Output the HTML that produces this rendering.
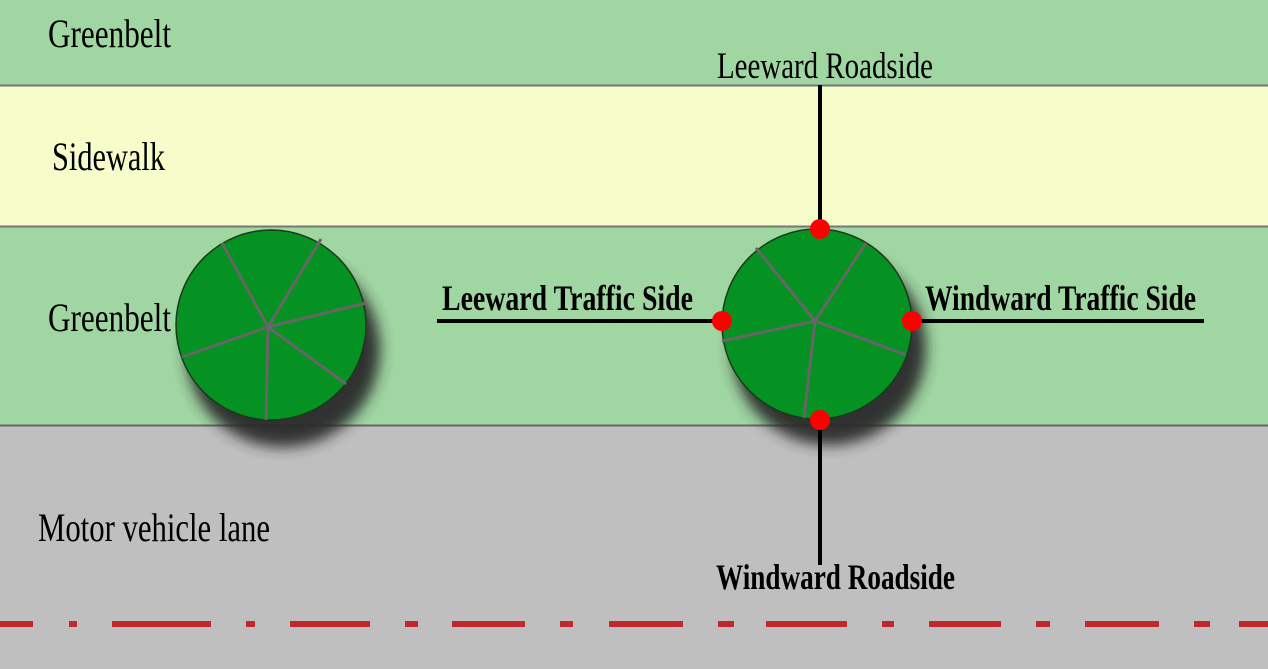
<!DOCTYPE html>
<html><head><meta charset="utf-8"><style>
html,body{margin:0;padding:0;width:1268px;height:669px;overflow:hidden;background:#bfbfbf}
svg{display:block}
text{font-family:"Liberation Serif",serif;fill:#000}
</style></head><body>
<svg width="1268" height="669" viewBox="0 0 1268 669" xmlns="http://www.w3.org/2000/svg">
<defs>
<filter id="sh" x="-50%" y="-50%" width="200%" height="200%"><feGaussianBlur stdDeviation="7"/></filter>
</defs>
<rect x="0" y="0" width="1268" height="86" fill="#9fd6a2"/>
<rect x="0" y="86" width="1268" height="140" fill="#f6fdca"/>
<rect x="0" y="226" width="1268" height="200" fill="#9fd6a2"/>
<rect x="0" y="426" width="1268" height="243" fill="#bfbfbf"/>
<line x1="0" y1="85.5" x2="1268" y2="85.5" stroke="#777" stroke-width="2"/>
<line x1="0" y1="226.5" x2="1268" y2="226.5" stroke="#777" stroke-width="2"/>
<line x1="0" y1="425.5" x2="1268" y2="425.5" stroke="#666" stroke-width="2"/>

<g fill="#c1272d">
<rect x="0" y="621" width="33" height="6"/><rect x="69" y="621" width="8" height="6"/>
<rect x="112" y="621" width="99" height="6"/><rect x="246" y="621" width="9" height="6"/>
<rect x="290" y="621" width="80" height="6"/><rect x="405" y="621" width="13" height="6"/>
<rect x="452" y="621" width="73" height="6"/><rect x="560" y="621" width="13" height="6"/>
<rect x="609" y="621" width="74" height="6"/><rect x="718" y="621" width="16" height="6"/>
<rect x="766" y="621" width="81" height="6"/><rect x="882" y="621" width="12" height="6"/>
<rect x="929" y="621" width="72" height="6"/><rect x="1036" y="621" width="14" height="6"/>
<rect x="1085" y="621" width="74" height="6"/><rect x="1194" y="621" width="16" height="6"/>
<rect x="1239" y="621" width="29" height="6"/>
</g>

<circle cx="283" cy="350" r="97" fill="#2a2a2a" opacity="0.95" filter="url(#sh)"/>
<circle cx="829" cy="348" r="97" fill="#2a2a2a" opacity="0.95" filter="url(#sh)"/>

<circle cx="271" cy="325" r="95" fill="#069222" stroke="#1a3a1a" stroke-width="1.5"/>
<g stroke="#666" stroke-width="3">
<line x1="268" y1="327" x2="222" y2="243"/><line x1="268" y1="327" x2="321" y2="239"/>
<line x1="268" y1="327" x2="366" y2="303"/><line x1="268" y1="327" x2="346" y2="384"/>
<line x1="268" y1="327" x2="266" y2="420"/><line x1="268" y1="327" x2="182" y2="357"/>
</g>
<circle cx="817" cy="324" r="95" fill="#069222" stroke="#1a3a1a" stroke-width="1.5"/>
<g stroke="#666" stroke-width="3">
<line x1="815" y1="321" x2="756" y2="248"/><line x1="815" y1="321" x2="866" y2="243"/>
<line x1="815" y1="321" x2="906" y2="355"/><line x1="815" y1="321" x2="804" y2="418"/>
<line x1="815" y1="321" x2="722" y2="341"/>
</g>

<g stroke="#000" stroke-width="4">
<line x1="820" y1="85" x2="820" y2="229"/>
<line x1="820" y1="420" x2="820" y2="565"/>
<line x1="437" y1="321" x2="722" y2="321"/>
<line x1="912" y1="321" x2="1204" y2="321"/>
</g>
<g fill="#ff0000">
<circle cx="820" cy="229" r="10"/><circle cx="722" cy="321" r="10"/>
<circle cx="912" cy="321" r="10"/><circle cx="820" cy="420" r="10"/>
</g>

<text x="48" y="47" font-size="40" textLength="123" lengthAdjust="spacingAndGlyphs">Greenbelt</text>
<text x="52" y="170" font-size="40" textLength="113" lengthAdjust="spacingAndGlyphs">Sidewalk</text>
<text x="48" y="331" font-size="40" textLength="123" lengthAdjust="spacingAndGlyphs">Greenbelt</text>
<text x="38" y="541" font-size="40" textLength="232" lengthAdjust="spacingAndGlyphs">Motor vehicle lane</text>
<text x="717" y="78" font-size="37" textLength="216" lengthAdjust="spacingAndGlyphs">Leeward Roadside</text>
<text x="442" y="310" font-size="36" font-weight="bold" textLength="251" lengthAdjust="spacingAndGlyphs">Leeward Traffic Side</text>
<text x="925" y="310" font-size="36" font-weight="bold" textLength="271" lengthAdjust="spacingAndGlyphs">Windward Traffic Side</text>
<text x="716" y="589" font-size="36" font-weight="bold" textLength="239" lengthAdjust="spacingAndGlyphs">Windward Roadside</text>
</svg>
</body></html>
